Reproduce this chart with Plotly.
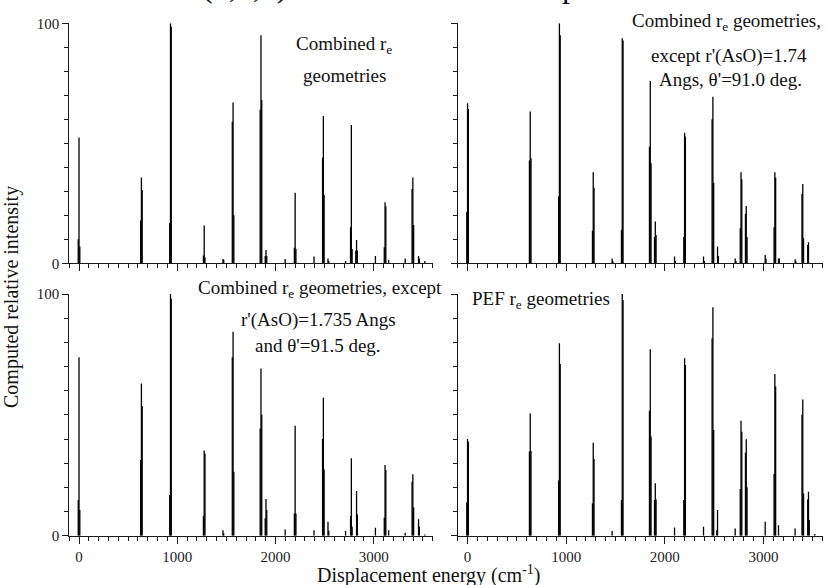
import plotly.graph_objects as go

# ---------------- data ----------------
band_cm = [0, 635, 931, 1274, 1465, 1568, 1852, 1903, 2098, 2200, 2392, 2487,
           2534, 2713, 2772, 2825, 3017, 3115, 3152, 3320, 3398, 3456, 3520]
sat_shift_cm = 8  # shoulder sticks on each side of a band

# top-left: Combined r_e geometries
tl_main = [52.4, 35.7, 100, 15.8, 1.8, 67, 95, 5.5, 1.8, 29.4, 2.8, 61.4, 2, 1, 57.6, 9.7, 3, 25.4, 1.5, 2, 35.7, 3, 1]
tl_left = [10, 17.8, 16.7, 3.3, 0, 59, 64, 3, 0, 6.5, 0, 44, 0, 0, 15, 5.3, 0, 6.7, 0, 0, 31, 0, 0]
tl_right = [7, 30.5, 98.6, 2.5, 1.5, 20, 68, 3, 0, 6, 0, 28.5, 1, 0, 6, 5.3, 0, 23.8, 0, 0, 16, 2, 0]

# top-right: r'(AsO)=1.74, theta'=91.0
tr_main = [66.7, 63.2, 100, 37.9, 2, 93.8, 76, 17.4, 2.8, 54.4, 2.8, 69.4, 7, 2, 37.9, 23.9, 3.5, 37.9, 2, 1.7, 33, 8.8, 0]
tr_left = [21.5, 42.8, 27.8, 13.6, 0, 13.9, 48.6, 11, 0, 11, 0, 60, 0, 0, 14.6, 20.6, 0, 15, 0, 0, 28.9, 7.6, 0]
tr_right = [64.3, 43.8, 95, 31.5, 1, 92.8, 41.7, 11.8, 1, 52.8, 1, 33.6, 3, 1, 35, 11, 2, 35.7, 2, 1, 10.4, 0, 0]

# bottom-left: r'(AsO)=1.735, theta'=91.5
bl_main = [73.8, 63, 100, 35.2, 2.3, 84.4, 69.2, 15.2, 2.6, 45.5, 2.3, 57.1, 5.8, 1.9, 32, 18.5, 3.3, 29.2, 2.3, 1.2, 25.4, 6.8, 0.5]
bl_left = [14.8, 31.3, 16.8, 8.1, 0, 73.8, 44.4, 7.2, 0, 9.2, 0, 40, 0, 0, 8.1, 0, 0, 7.4, 0, 0, 22.3, 0, 0]
bl_right = [10.6, 53.7, 98, 34, 1, 26.5, 50, 10.6, 0, 9.2, 0, 27.4, 2, 0, 3.7, 8.8, 0, 27.2, 0, 0, 11.7, 3.7, 0]

# bottom-right: PEF r_e geometries
br_main = [40, 50.6, 79.6, 38.5, 1.9, 100, 77.1, 21.7, 3.4, 73.4, 3.7, 94.5, 10.6, 3, 47.6, 39.9, 5.8, 66.9, 4.3, 3, 56.4, 18.2, 0.7]
br_left = [13.7, 34.8, 22.8, 13.4, 0, 14.8, 51.7, 14.8, 0, 14.8, 0, 81.7, 2.3, 0, 19.3, 34.3, 0, 25.5, 0, 0, 50, 15, 0]
br_right = [38.9, 35, 71, 31.7, 0, 97.5, 41, 15, 0, 70.6, 0, 43.7, 0, 0, 43, 20, 0, 61.7, 0, 0, 17.5, 6.5, 0]

x_tick_vals = [0, 1000, 2000, 3000]
x_tick_text = ["0", "1000", "2000", "3000"]
y_tick_vals = [0, 100]
y_tick_text = ["0", "100"]

x_title = "Displacement energy (cm<sup>-1</sup>)"
y_title = "Computed relative intensity"
top_fragment = "(0,0,0) simulated emission spectra"

# ---------------- figure ----------------
W, H = 829, 585
FONT = "Liberation Serif, Times New Roman, serif"


def px_x(v):
    return v / W


def px_y(v):
    return 1 - v / H


def sticks(main, left, right):
    xs, ys = [], []
    for p, m, l, r in zip(band_cm, main, left, right):
        for off, h in ((-sat_shift_cm, l), (0, m), (sat_shift_cm, r)):
            if h > 0:
                xs += [p + off, p + off, None]
                ys += [0, h, None]
    return xs, ys


panels = [
    ("x", "y", tl_main, tl_left, tl_right),
    ("x2", "y2", tr_main, tr_left, tr_right),
    ("x3", "y3", bl_main, bl_left, bl_right),
    ("x4", "y4", br_main, br_left, br_right),
]

fig = go.Figure()
for xa, ya, m, l, r in panels:
    xs, ys = sticks(m, l, r)
    fig.add_trace(go.Scatter(x=xs, y=ys, mode="lines", xaxis=xa, yaxis=ya,
                             line=dict(color="black", width=1.3),
                             hoverinfo="skip", showlegend=False))

left_dom = [px_x(69.2), px_x(432.7)]
right_dom = [px_x(457.7), px_x(822.7)]
top_dom = [px_y(263.3), px_y(23.3)]
bot_dom = [px_y(535.7), px_y(294.0)]

AX_COLOR = "#1a1a1a"


def xaxis(domain, anchor, labels):
    return dict(domain=domain, anchor=anchor, range=[-100, 3600], automargin=False,
                showline=True, linecolor=AX_COLOR, linewidth=1,
                showgrid=False, zeroline=False,
                tickmode="array", tickvals=x_tick_vals, ticktext=x_tick_text,
                ticks="outside", ticklen=7, tickwidth=1, tickcolor=AX_COLOR,
                showticklabels=labels,
                tickfont=dict(family=FONT, size=15, color="#222"),
                minor=dict(dtick=100, tick0=0, ticks="outside", ticklen=4,
                           tickwidth=1, tickcolor=AX_COLOR, showgrid=False))


def yaxis(domain, anchor, labels):
    return dict(domain=domain, anchor=anchor, range=[0, 100], automargin=False,
                showline=True, linecolor=AX_COLOR, linewidth=1,
                showgrid=False, zeroline=False,
                tickmode="array", tickvals=y_tick_vals, ticktext=y_tick_text,
                ticks="outside", ticklen=6, tickwidth=1, tickcolor=AX_COLOR,
                showticklabels=labels,
                tickfont=dict(family=FONT, size=15, color="#222"),
                minor=dict(dtick=10, tick0=0, ticks="outside", ticklen=4,
                           tickwidth=1, tickcolor=AX_COLOR, showgrid=False))


fig.update_layout(
    template="none",
    width=W, height=H, autosize=False,
    margin=dict(l=0, r=0, t=0, b=0, pad=0, autoexpand=False),
    paper_bgcolor="white", plot_bgcolor="white",
    font=dict(family=FONT, color="#111"),
    showlegend=False,
    xaxis=xaxis(left_dom, "y", False),
    yaxis=yaxis(top_dom, "x", True),
    xaxis2=xaxis(right_dom, "y2", False),
    yaxis2=yaxis(top_dom, "x2", False),
    xaxis3=xaxis(left_dom, "y3", True),
    yaxis3=yaxis(bot_dom, "x3", True),
    xaxis4=xaxis(right_dom, "y4", True),
    yaxis4=yaxis(bot_dom, "x4", False),
)

ANN = 19


def add_text(text, cx, cy, size=ANN, **kw):
    fig.add_annotation(text=text, x=px_x(cx), y=px_y(cy), xref="paper", yref="paper",
                       showarrow=False, xanchor="center", yanchor="middle",
                       font=dict(family=FONT, size=size, color="#111"), **kw)


# panel labels
add_text("Combined r<sub>e</sub>", 344, 45)
add_text("geometries", 344, 76)
add_text("Combined r<sub>e</sub> geometries,", 726, 22)
add_text("except r'(AsO)=1.74", 729, 56)
add_text("Angs, θ'=91.0 deg.", 730, 80)
add_text("Combined r<sub>e</sub> geometries, except", 320, 289)
add_text("r'(AsO)=1.735 Angs", 318, 320)
add_text("and θ'=91.5 deg.", 318, 345)
add_text("PEF r<sub>e</sub> geometries", 541, 300)

# axis titles
add_text(x_title, 428, 574, size=20)
add_text(y_title, 11, 297, size=20, textangle=-90)

# cut-off heading at the very top
fig.add_annotation(text=top_fragment, x=px_x(200), y=1, xref="paper", yref="paper",
                   showarrow=False, xanchor="left", yanchor="bottom", yshift=-6,
                   font=dict(family=FONT, size=32, color="#111"))

fig.write_html("out.html", config={"responsive": False, "displayModeBar": False},
               post_script="document.body.style.margin='0';document.body.style.overflow='hidden';")
